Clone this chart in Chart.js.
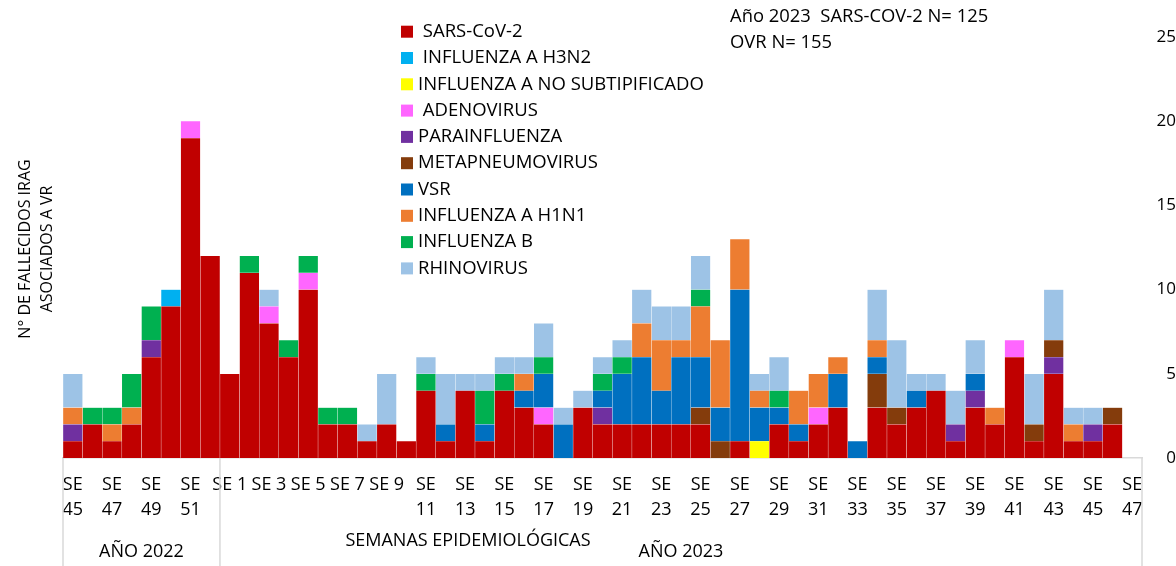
<!DOCTYPE html>
<html>
<head>
<meta charset="utf-8">
<script src="https://cdn.jsdelivr.net/npm/chart.js@4.4.1/dist/chart.umd.min.js"></script>
<style>
  body { margin: 0; background: #fff; }
  #wrap { width: 1176px; height: 566px; }
</style>
</head>
<body>
<div id="wrap"><canvas id="chart" width="1176" height="566"></canvas></div>
<script>
// epidemiological weeks shown on the axis
const weeks2022 = [45, 46, 47, 48, 49, 50, 51, 52];
const weeks2023 = [1, 2, 3, 4, 5, 6, 7, 8, 9, 10, 11, 12, 13, 14, 15, 16, 17, 18, 19, 20,
  21, 22, 23, 24, 25, 26, 27, 28, 29, 30, 31, 32, 33, 34, 35, 36, 37, 38, 39, 40,
  41, 42, 43, 44, 45, 46, 47];
const categories = weeks2022.concat(weeks2023).map(w => 'SE ' + w);
const yearLabels = ['AÑO 2022', 'AÑO 2023'];

// deaths per week, one array per virus (stack order = legend order)
const sarsCov2   = [1,2,1,2,6,9,19,12, 5,11,8,6,10,2,2,1,2,1,4,1,4,1,4,3,2,0,3,2,2,2,2,2,2,0,1,0,2,1,2,3,0,3,2,3,4,1,3,2,6,1,5,1,1,2,0];
const h3n2       = [0,0,0,0,0,1,0,0, 0,0,0,0,0,0,0,0,0,0,0,0,0,0,0,0,0,0,0,0,0,0,0,0,0,0,0,0,0,0,0,0,0,0,0,0,0,0,0,0,0,0,0,0,0,0,0];
const noSubtip   = [0,0,0,0,0,0,0,0, 0,0,0,0,0,0,0,0,0,0,0,0,0,0,0,0,0,0,0,0,0,0,0,0,0,0,0,1,0,0,0,0,0,0,0,0,0,0,0,0,0,0,0,0,0,0,0];
const adenovirus = [0,0,0,0,0,0,1,0, 0,0,1,0,1,0,0,0,0,0,0,0,0,0,0,0,1,0,0,0,0,0,0,0,0,0,0,0,0,0,1,0,0,0,0,0,0,0,0,0,1,0,0,0,0,0,0];
const parainfl   = [1,0,0,0,1,0,0,0, 0,0,0,0,0,0,0,0,0,0,0,0,0,0,0,0,0,0,0,1,0,0,0,0,0,0,0,0,0,0,0,0,0,0,0,0,0,1,1,0,0,0,1,0,1,0,0];
const metapneumo = [0,0,0,0,0,0,0,0, 0,0,0,0,0,0,0,0,0,0,0,0,0,0,0,0,0,0,0,0,0,0,0,0,1,1,0,0,0,0,0,0,0,2,1,0,0,0,0,0,0,1,1,0,0,1,0];
const vsr        = [0,0,0,0,0,0,0,0, 0,0,0,0,0,0,0,0,0,0,0,1,0,1,0,1,2,2,0,1,3,4,2,4,3,2,9,2,1,1,0,2,1,1,0,1,0,0,1,0,0,0,0,0,0,0,0];
const h1n1       = [1,0,1,1,0,0,0,0, 0,0,0,0,0,0,0,0,0,0,0,0,0,0,0,1,0,0,0,0,0,2,3,1,3,4,3,1,0,2,2,1,0,1,0,0,0,0,0,1,0,0,0,1,0,0,0];
const influB     = [0,1,1,2,2,0,0,0, 0,1,0,1,1,1,1,0,0,0,1,0,0,2,1,0,1,0,0,1,1,0,0,0,1,0,0,0,1,0,0,0,0,0,0,0,0,0,0,0,0,0,0,0,0,0,0];
const rhinovirus = [2,0,0,0,0,0,0,0, 0,0,1,0,0,0,0,1,3,0,1,3,1,1,1,1,2,1,1,1,1,2,2,2,2,0,0,1,2,0,0,0,0,3,4,1,1,2,2,0,0,3,3,1,1,0,0];

const yTicks = [0, 5, 10, 15, 20, 25];

const FONT = "'Open Sans', 'Noto Sans', sans-serif";
Chart.defaults.font.family = FONT;
Chart.defaults.color = '#000';

const extras = {
  id: 'extras',
  afterDraw(chart) {
    const {ctx, scales: {x}} = chart;
    const half = (x.getPixelForValue(1) - x.getPixelForValue(0)) / 2;
    const bottom = chart.height;
    ctx.save();

    // multi-level axis: group borders and year labels
    const edges = [0, weeks2022.length, categories.length];
    ctx.strokeStyle = '#d9d9d9';
    ctx.lineWidth = 1.5;
    edges.forEach(i => {
      const px = i < categories.length ? x.getPixelForValue(i) - half : x.getPixelForValue(i - 1) + half;
      ctx.beginPath();
      ctx.moveTo(px, x.top);
      ctx.lineTo(px, bottom);
      ctx.stroke();
    });
    ctx.fillStyle = '#000';
    ctx.font = '18px ' + FONT;
    ctx.textAlign = 'center';
    ctx.textBaseline = 'middle';
    yearLabels.forEach((lab, k) => {
      const a = x.getPixelForValue(edges[k]) - half;
      const b = x.getPixelForValue(edges[k + 1] - 1) + half;
      ctx.fillText(lab, (a + b) / 2, 552);
    });
    ctx.fillText('SEMANAS EPIDEMIOLÓGICAS', 468, 541);

    // y axis title (left side)
    ctx.font = '16px ' + FONT;
    ctx.save();
    ctx.translate(25, 249);
    ctx.rotate(-Math.PI / 2);
    ctx.fillText('N° DE FALLECIDOS IRAG', 0, 0);
    ctx.restore();
    ctx.save();
    ctx.translate(47, 249);
    ctx.rotate(-Math.PI / 2);
    ctx.fillText('ASOCIADOS A VR', 0, 0);
    ctx.restore();

    // totals note
    ctx.textAlign = 'left';
    ctx.font = '18.4px ' + FONT;
    ctx.fillText('Año 2023  SARS-COV-2 N= 125', 730, 17);
    ctx.fillText('OVR N= 155', 730, 43);

    // legend
    ctx.font = '18.5px ' + FONT;
    chart.data.datasets.forEach((ds, i) => {
      const cy = 31.7 + i * 26.3;
      ctx.fillStyle = ds.backgroundColor;
      ctx.fillRect(401, cy - 6, 12, 12);
      ctx.fillStyle = '#000';
      ctx.fillText(ds.label, 418, cy);
    });
    ctx.restore();
  }
};

const mk = (label, data, color) => ({
  label, data,
  backgroundColor: color,
  borderColor: 'rgba(255,255,255,0.15)',
  borderWidth: 0.5,
  barPercentage: 1,
  categoryPercentage: 1
});

new Chart(document.getElementById('chart'), {
  type: 'bar',
  data: {
    labels: categories,
    datasets: [
      mk(' SARS-CoV-2', sarsCov2, '#C00000'),
      mk(' INFLUENZA A H3N2', h3n2, '#00B0F0'),
      mk('INFLUENZA A NO SUBTIPIFICADO', noSubtip, '#FFFF00'),
      mk(' ADENOVIRUS', adenovirus, '#FF66FF'),
      mk('PARAINFLUENZA', parainfl, '#7030A0'),
      mk('METAPNEUMOVIRUS', metapneumo, '#843C0C'),
      mk('VSR', vsr, '#0070C0'),
      mk('INFLUENZA A H1N1', h1n1, '#ED7D31'),
      mk('INFLUENZA B', influB, '#00B050'),
      mk('RHINOVIRUS', rhinovirus, '#9DC3E6')
    ]
  },
  options: {
    responsive: false,
    animation: false,
    layout: { padding: { top: 37, left: 63, right: 0, bottom: 0 } },
    plugins: { legend: { display: false }, tooltip: { enabled: false } },
    scales: {
      x: {
        stacked: true,
        grid: { display: false, drawTicks: false },
        border: { display: true, color: '#d9d9d9', width: 1.5 },
        afterFit: s => { s.height = 108; },
        ticks: {
          autoSkip: false,
          maxRotation: 0,
          minRotation: 0,
          padding: 14,
          font: { size: 18, lineHeight: 1.4 },
          callback: function (v, i) {
            if (i % 2) return '';
            const lab = this.getLabelForValue(v);
            return lab.length > 4 ? lab.split(' ') : lab;
          }
        }
      },
      y: {
        stacked: true,
        position: 'right',
        min: 0,
        max: 25,
        grid: { display: false, drawTicks: false },
        border: { display: false },
        afterFit: s => { s.width = 34; },
        afterBuildTicks: s => { s.ticks = yTicks.map(v => ({ value: v })); },
        ticks: { crossAlign: 'far', padding: 6, font: { size: 17 } }
      }
    }
  },
  plugins: [extras]
});
</script>
</body>
</html>
